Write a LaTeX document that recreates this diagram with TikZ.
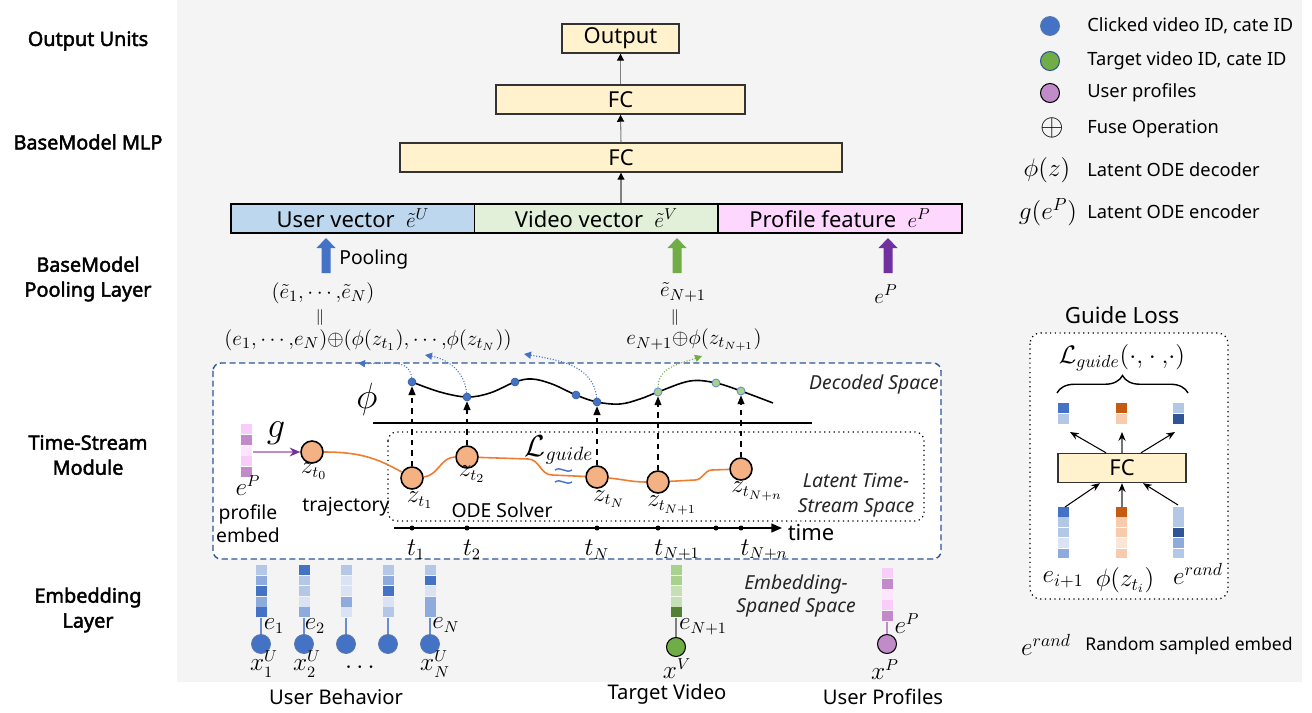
\documentclass[tikz,border=0pt]{standalone}
\usepackage{amsmath}
\usepackage{amssymb}
\usepackage{fontspec}
\setmainfont{Noto Sans}
\newfontfamily\lblfont{Noto Sans}[FakeBold=2.2]
\usetikzlibrary{arrows.meta,calc,decorations.pathreplacing}

\definecolor{bggray}{HTML}{F4F4F4}
\definecolor{fcyel}{HTML}{FFF2CC}
\definecolor{uvblue}{HTML}{BDD7EE}
\definecolor{vvgreen}{HTML}{E2F0D9}
\definecolor{pfpink}{HTML}{FDD7FD}
\definecolor{bdark}{HTML}{4472C4}
\definecolor{bmid}{HTML}{8FAADC}
\definecolor{blight}{HTML}{B4C7E7}
\definecolor{bpale}{HTML}{DAE3F3}
\definecolor{bnavy}{HTML}{2F5597}
\definecolor{gmain}{HTML}{70AD47}
\definecolor{glight}{HTML}{A9D18E}
\definecolor{gpale}{HTML}{C5E0B4}
\definecolor{gdark}{HTML}{548235}
\definecolor{ppurple}{HTML}{7030A0}
\definecolor{pmid}{HTML}{C08BC8}
\definecolor{ppink}{HTML}{F9CDF9}
\definecolor{ppale}{HTML}{FDE6FD}
\definecolor{zorange}{HTML}{F4B183}
\definecolor{trajor}{HTML}{ED7D31}
\definecolor{odark}{HTML}{C55A11}
\definecolor{olight}{HTML}{F8CBAD}
\definecolor{opale}{HTML}{FBE5D6}

\tikzset{blockup/.pic={\fill (-4.5,0) -- (-4.5,-25) -- (-9.5,-25) -- (0,-35) -- (9.5,-25) -- (4.5,-25) -- (4.5,0) -- cycle;}}

\begin{document}
\begin{tikzpicture}[x=0.02cm,y=-0.02cm]
  \tikzstyle{every node}+=[inner sep=0pt, font=\fontsize{11}{13}\selectfont]
  \tikzstyle{layerlbl}=[font=\lblfont\fontsize{11.3}{14.2}\selectfont, align=center]
  \tikzstyle{fcbox}=[draw=black!80, fill=fcyel, line width=0.8pt, minimum height=0.58cm, font=\fontsize{12.5}{14}\selectfont]
  \tikzstyle{vecbox}=[draw=black, line width=0.9pt, minimum height=0.58cm, minimum width=4.88cm, font=\fontsize{12.5}{14}\selectfont]
  \tikzstyle{mlparr}=[draw=black!50, line width=0.6pt, -{Triangle[length=4pt,width=4pt,black]}]
  \tikzstyle{mathlbl}=[font=\fontsize{13.5}{15}\selectfont]
  \tikzstyle{fuselbl}=[font=\fontsize{12.5}{14}\selectfont]
  \tikzstyle{spacelbl}=[font=\itshape\fontsize{11}{14}\selectfont, text=black!85, align=center]
  \tikzstyle{tsbox}=[draw=bnavy, dash pattern=on 3.5pt off 2pt, line width=0.8pt, rounded corners=4.5pt]
  \tikzstyle{zc}=[circle, draw=black, fill=zorange, line width=0.9pt, minimum size=0.44cm]
  \tikzstyle{bdot}=[circle, draw=bnavy, fill=bdark, line width=0.3pt, minimum size=0.16cm]
  \tikzstyle{gdot}=[circle, draw=bdark!80, fill=glight, line width=0.5pt, minimum size=0.16cm]
  \tikzstyle{tdot}=[circle, fill=black, minimum size=0.1cm]
  \tikzstyle{traj}=[draw=trajor, line width=0.9pt]
  \tikzstyle{dasharr}=[dashed, line width=0.6pt, -{Triangle[length=5pt,width=4pt]}]
  \tikzstyle{decarr}=[draw=bdark, densely dotted, line width=0.6pt, -{Triangle[length=4pt,width=4pt]}]
  \tikzstyle{ucirc}=[circle, draw=bnavy!80, fill=bdark, line width=0.5pt, minimum size=0.38cm]
  \tikzstyle{gcirc}=[circle, draw=black, fill=gmain, line width=0.6pt, minimum size=0.38cm]
  \tikzstyle{pcirc}=[circle, draw=black, fill=pmid, line width=0.6pt, minimum size=0.38cm]
  \tikzstyle{legtxt}=[anchor=west, font=\fontsize{10.4}{12}\selectfont]
  \tikzstyle{garrow}=[line width=0.6pt, -{Stealth[length=5pt,width=4pt]}]

  \useasboundingbox (0,0) rectangle (1312,713);
  \fill[bggray] (177,0) rectangle (1302,682);

  % layer names
  \node[layerlbl] (lout) at (88,41) {Output Units};
  \node[layerlbl] (lmlp) at (88,142) {BaseModel MLP};
  \node[layerlbl] (lpool) at (88,279) {BaseModel\\Pooling Layer};
  \node[layerlbl] (lts) at (88,455) {Time-Stream\\Module};
  \node[layerlbl] (lemb) at (88,610) {Embedding\\Layer};

  % base model
  \node[fcbox, minimum width=2.34cm] (outbox) at (620.5,38.5) {Output};
  \node[fcbox, minimum width=4.98cm] (fc2) at (620.5,99.5) {FC};
  \node[fcbox, minimum width=8.84cm] (fc1) at (621,157.5) {FC};
  \node[vecbox, fill=uvblue] (uvec) at (353,218.5) {User vector\ \ $\tilde e^U$};
  \node[vecbox, fill=vvgreen] (vvec) at (596.5,218.5) {Video vector\ \ $\tilde e^V$};
  \node[vecbox, fill=pfpink] (pvec) at (840,218.5) {Profile feature\ \ $e^P$};
  \draw[mlparr] (fc1.south |- vvec.north) -- (fc1.south);
  \draw[mlparr] (fc1.north) -- (fc2.south);
  \draw[mlparr] (fc2.north) -- (outbox.south);

  % pooling
  \pic[bdark] at (326,273) {blockup};
  \pic[gmain] at (677,273) {blockup};
  \pic[ppurple] at (888,273) {blockup};
  \node[anchor=west] (poolt) at (339,259) {Pooling};
  \node[fuselbl] (poolu) at (323,293) {$(\tilde e_1{,}\cdots{,}\tilde e_N)$};
  \node[font=\fontsize{9}{10}\selectfont] (equ) at (320,318) {$\|$};
  \node[fuselbl] (fuseu) at (368,340) {$(e_1{,}\cdots{,}e_N){\oplus}(\phi(z_{t_1}){,}\cdots{,}\phi(z_{t_N}))$};
  \node[fuselbl] (poolv) at (683,292) {$\tilde e_{N+1}$};
  \node[font=\fontsize{9}{10}\selectfont] (eqv) at (675,318) {$\|$};
  \node[fuselbl] (fusev) at (694,340) {$e_{N+1}{\oplus}\phi(z_{t_{N+1}})$};
  \node[fuselbl] (poolp) at (886,294) {$e^P$};

  % time-stream module
  \draw[tsbox, fill=white] (213,363) rectangle (941,559);
  \node[spacelbl] (decsp) at (874,384) {Decoded Space};
  \node[font=\fontsize{21}{23}\selectfont] (phil) at (367,399) {$\phi$};
  \draw[line width=1.1pt] (373,423) -- (812,423);
  \draw[dotted, line width=0.7pt, rounded corners=5pt] (388,432) rectangle (924,521);
  \node[spacelbl] (latsp) at (856,495) {Latent Time-\\Stream Space};
  \draw[line width=0.9pt] plot[smooth, tension=0.6] coordinates {(412,382) (440,392) (467,397) (490,393) (515,382) (532,379) (552,384) (576,395) (597,402) (620,404) (640,399) (658,392) (690,381) (716,383) (741,391) (773,403)};
  \node[bdot] (p1) at (412,382) {};
  \node[bdot] (p2) at (467,397) {};
  \node[bdot] (p3) at (515,382) {};
  \node[bdot] (p4) at (576,395) {};
  \node[bdot] (p5) at (597,402) {};
  \node[gdot] (q1) at (658,392) {};
  \node[gdot] (q2) at (716,383) {};
  \node[gdot] (q3) at (741,391) {};
  \coordinate (a1) at (358,363);
  \coordinate (a2) at (425,355);
  \coordinate (a3) at (524,354);
  \coordinate (a4) at (702,356);
  \draw[decarr] (p1) to[out=95,in=-5] (a1);
  \draw[decarr] (p2) to[out=95,in=-10] (a2);
  \draw[decarr] (p5) to[out=95,in=-10] (a3);
  \draw[decarr, draw=gmain] (q1) to[out=90,in=200] (a4);

  \node[zc] (z0) at (312,452) {};
  \node[zc] (z1) at (412,478) {};
  \node[zc] (z2) at (467,457) {};
  \node[zc] (zN) at (597,477) {};
  \node[zc] (zN1) at (658,482) {};
  \node[zc] (zNn) at (741,469) {};
  \node[mathlbl] (lz0) at (314,471) {$z_{t_0}$};
  \node[mathlbl] (lz1) at (420,500) {$z_{t_1}$};
  \node[mathlbl] (lz2) at (472,474) {$z_{t_2}$};
  \node[mathlbl] (lzN) at (609,499) {$z_{t_N}$};
  \node[mathlbl] (lzN1) at (672,505) {$z_{t_{N+1}}$};
  \node[mathlbl] (lzNn) at (757,491) {$z_{t_{N+n}}$};
  \draw[traj] (z0) to[out=0,in=150] (z1);
  \draw[traj] (z1) to[out=5,in=180] (z2);
  \draw[traj] (z2) -- (528,459) to[out=0,in=180] (552,475) -- (zN);
  \draw[traj] (zN) to[out=-5,in=180] (zN1);
  \draw[traj] (zN1) -- (695,480) to[out=0,in=180] (712,470) -- (zNn);
  \draw[dasharr] (z1) -- (p1);
  \draw[dasharr] (z2) -- (p2);
  \draw[dasharr] (zN) -- (p5);
  \draw[dasharr] (zN1) -- (q1);
  \draw[dasharr] (zNn) -- (q3);
  \node[font=\fontsize{16}{18}\selectfont] (lguide) at (559,450) {$\mathcal{L}_{guide}$};
  \draw[bdark, line width=0.8pt] (555,470) .. controls (561,466) and (566,474) .. (572,470);
  \draw[bdark, line width=0.8pt] (555,482) .. controls (561,478) and (566,486) .. (572,482);
  \node (odes) at (502,510) {ODE Solver};
  \node (trajt) at (346,507) {trajectory};

  \foreach \c [count=\i from 0] in {ppink,pmid,ppale,ppink,pmid}
    \fill[\c] (241,424+10.8*\i) rectangle ++(11,10);
  \coordinate (eps) at (253,452);
  \draw[draw=pmid, line width=0.8pt, -{Stealth[length=6pt,width=5pt,ppurple]}] (eps) -- (z0);
  \node[font=\fontsize{22}{24}\selectfont] (gl) at (276,433) {$g$};
  \node[mathlbl] (lep) at (248,486) {$e^P$};
  \node[font=\fontsize{11}{13}\selectfont, align=center] (pemb) at (248,524) {profile\\embed};

  \coordinate (ts) at (394,528);
  \coordinate (te) at (782,528);
  \draw[line width=0.9pt, -{Triangle[length=6pt,width=5pt]}] (ts) -- (te);
  \foreach \tx [count=\k] in {412,467,597,658,716,741}
    \node[tdot] (d\k) at (\tx,528) {};
  \node[mathlbl] (lt1) at (416,550) {$t_1$};
  \node[mathlbl] (lt2) at (472,550) {$t_2$};
  \node[mathlbl] (ltN) at (597,550) {$t_N$};
  \node[mathlbl] (ltN1) at (677,550) {$t_{N+1}$};
  \node[mathlbl] (ltNn) at (764,550) {$t_{N+n}$};
  \node[font=\fontsize{12.5}{14}\selectfont] (timet) at (811,533) {time};

  % embedding layer
  \foreach \cx/\cl [count=\n] in {261/{blight,bmid,bdark,bmid,bdark},304/{bdark,blight,blight,bpale,bmid},346/{blight,bpale,bpale,bmid,bpale},388/{blight,bmid,bdark,bpale,blight},430/{blight,bdark,bpale,bmid,bmid}}{
    \foreach \c [count=\i from 0] in \cl
      \fill[\c] (\cx-5.5,565+10.6*\i) rectangle ++(11,9.8);
    \coordinate (s\n) at (\cx,618);
    \node[ucirc] (u\n) at (\cx,644) {};
    \draw[bdark!80, line width=0.6pt] (s\n) -- (u\n);
  }
  \node[mathlbl] (le1) at (274,626) {$e_1$};
  \node[mathlbl] (le2) at (315,626) {$e_2$};
  \node[mathlbl] (leN) at (446,625) {$e_N$};
  \node[mathlbl] (lx1) at (264,664) {$x^U_1$};
  \node[mathlbl] (lx2) at (307,664) {$x^U_2$};
  \node[mathlbl] (ldots) at (362,668) {$\cdots$};
  \node[mathlbl] (lxN) at (435,664) {$x^U_N$};

  \foreach \c [count=\i from 0] in {glight,glight,gpale,gpale,gdark}
    \fill[\c] (670.5,565+10.6*\i) rectangle ++(11,9.8);
  \coordinate (sv) at (676,618);
  \node[gcirc] (xv) at (676,647) {};
  \draw[black!50, line width=0.6pt] (sv) -- (xv);
  \node[mathlbl] (leN1) at (703,627) {$e_{N+1}$};
  \node[mathlbl] (lxv) at (677,669) {$x^V$};

  \foreach \c [count=\i from 0] in {ppink,pmid,ppale,ppink,pmid}
    \fill[\c] (881.5,568+10.8*\i) rectangle ++(11,10);
  \coordinate (sp) at (887,622);
  \node[pcirc] (xp) at (887,644) {};
  \draw[pmid, line width=0.6pt] (sp) -- (xp);
  \node[mathlbl] (lepb) at (907,624) {$e^P$};
  \node[mathlbl] (lxp) at (885,670) {$x^P$};
  \node[spacelbl, font=\itshape\fontsize{11}{13}\selectfont] (embsp) at (796,596) {Embedding-\\Spaned Space};

  \node[font=\fontsize{11.5}{13}\selectfont] (ubeh) at (336,697) {User Behavior};
  \node[font=\fontsize{11.5}{13}\selectfont] (tvid) at (667,694) {Target Video};
  \node[font=\fontsize{11.5}{13}\selectfont] (uprof) at (883,697) {User Profiles};

  % legend
  \node[ucirc] (lgb) at (1050,26) {};
  \node[gcirc, draw=bnavy] (lgg) at (1050,61) {};
  \node[pcirc] (lgp) at (1050,93) {};
  \node[font=\fontsize{18}{20}\selectfont] (lgf) at (1052,128) {$\oplus$};
  \node[font=\fontsize{14}{16}\selectfont] (lgphi) at (1047,170) {$\phi(z)$};
  \node[font=\fontsize{14}{16}\selectfont] (lgg2) at (1048,212) {$g(e^P)$};
  \node[legtxt] (tb) at (1087,26) {Clicked video ID, cate ID};
  \node[legtxt] (tg) at (1087,61) {Target video ID, cate ID};
  \node[legtxt] (tp) at (1087,93) {User profiles};
  \node[legtxt] (tf) at (1087,129) {Fuse Operation};
  \node[legtxt] (tphi) at (1087,170) {Latent ODE decoder};
  \node[legtxt] (tgg) at (1087,212) {Latent ODE encoder};

  % guide loss
  \node[font=\fontsize{12.7}{15}\selectfont] (gtitle) at (1122,315) {Guide Loss};
  \draw[dotted, line width=0.7pt, rounded corners=6pt, fill=white] (1030,333) rectangle (1228,599);
  \node[font=\fontsize{14}{16}\selectfont] (glos) at (1122,358) {$\mathcal{L}_{guide}(\cdot{,}\cdot{,}\cdot)$};
  \draw[decorate, decoration={brace, amplitude=0.35cm}, line width=0.8pt] (1057,393) -- (1188,393);
  \node[fcbox, minimum width=2.56cm] (gfc) at (1122,468) {FC};
  \foreach \gx/\cl in {1058/{bdark,blight},1116/{odark,olight},1173/{blight,bnavy}}
    \foreach \c [count=\i from 0] in \cl
      \fill[\c] (\gx,403+11*\i) rectangle ++(11,10.2);
  \foreach \gx/\cl in {1058/{bdark,blight,blight,bpale,bmid},1116/{odark,olight,olight,opale,olight},1173/{blight,blight,bnavy,bmid,blight}}
    \foreach \c [count=\i from 0] in \cl
      \fill[\c] (\gx,507+10.4*\i) rectangle ++(11,9.6);
  \coordinate (gtl) at (1070,432);
  \coordinate (gtm) at (1122,432);
  \coordinate (gtr) at (1175,432);
  \coordinate (gbl) at (1065,507);
  \coordinate (gbm) at (1122,507);
  \coordinate (gbr) at (1178,505);
  \draw[garrow] ($(gfc.north)+(-16,0)$) -- (gtl);
  \draw[garrow, draw=black!55, -{Stealth[length=5pt,width=4pt,black]}] (gfc.north) -- (gtm);
  \draw[garrow] ($(gfc.north)+(19,0)$) -- (gtr);
  \draw[garrow] (gbl) -- ($(gfc.south)+(-22,0)$);
  \draw[garrow, draw=black!55, -{Stealth[length=5pt,width=4pt,black]}] (gbm) -- (gfc.south);
  \draw[garrow] (gbr) -- ($(gfc.south)+(21,0)$);
  \node[font=\fontsize{14}{16}\selectfont] (lei) at (1063,580) {$e_{i+1}$};
  \node[font=\fontsize{14}{16}\selectfont] (lphi) at (1125,580) {$\phi(z_{t_i})$};
  \node[font=\fontsize{14}{16}\selectfont] (lrand) at (1198,574) {$e^{rand}$};
  \node[font=\fontsize{14}{16}\selectfont] (lgrand) at (1046,645) {$e^{rand}$};
  \node[legtxt, font=\fontsize{10}{12}\selectfont] (trand) at (1085,646) {Random sampled embed};
\end{tikzpicture}
\end{document}
